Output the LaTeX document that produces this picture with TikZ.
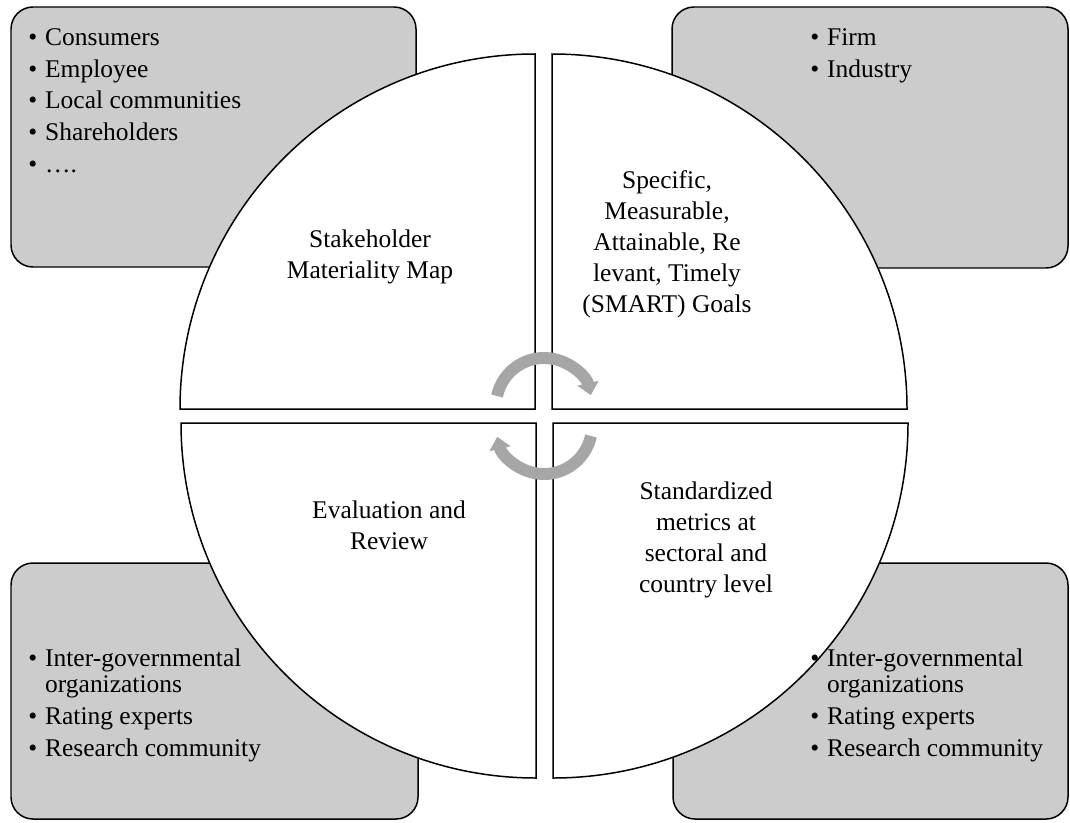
\documentclass[tikz,border=0pt]{standalone}
\usepackage{fontspec}
\setmainfont{Liberation Serif}
\usetikzlibrary{arrows.meta}

\tikzset{
  groupbox/.style={draw, line width=0.85pt, rounded corners=0.44cm, fill=black!20},
  quarter/.style={draw, line width=0.85pt, fill=white},
  cyclearrow/.style={draw=black!35, line width=6.8pt, -{Triangle[width=12pt,length=7pt]}},
  listtext/.style={anchor=north west, inner sep=0pt, font=\fontsize{14.5}{18}\selectfont},
  quartertext/.style={align=center, inner sep=0pt, font=\fontsize{14.5}{17.6}\selectfont},
}
\newcommand{\itemcols}{@{}l@{\hspace{4.5pt}}l@{}}

\begin{document}
\begin{tikzpicture}[x=1cm,y=1cm]
    \useasboundingbox (0,0) rectangle (21.4,16.44);
    % corner groups
    \draw[groupbox] (0.22,11.10) rectangle (8.32,16.30);
    \draw[groupbox] (13.44,11.08) rectangle (21.36,16.30);
    \draw[groupbox] (0.22,0.06) rectangle (8.36,5.18);
    \draw[groupbox] (13.46,0.06) rectangle (21.36,5.18);
    % four quarters of the cycle
    \coordinate (hub) at (10.88,8.12);
    \draw[quarter] (10.70,8.26) -- ++(-7.10,0) arc[start angle=180, end angle=90, radius=7.10] -- cycle;
    \draw[quarter] (11.04,8.26) -- ++(0,7.10) arc[start angle=90, end angle=0, radius=7.10] -- cycle;
    \draw[quarter] (10.72,7.98) -- ++(0,-7.10) arc[start angle=270, end angle=180, radius=7.10] -- cycle;
    \draw[quarter] (11.06,7.98) -- ++(7.10,0) arc[start angle=0, end angle=-90, radius=7.10] -- cycle;
    % circular arrows in the middle
    \draw[cyclearrow] (10.88,8.32) ++(168:0.96) arc[start angle=168, end angle=13, radius=0.96];
    \draw[cyclearrow] (10.88,7.92) ++(-12:0.96) arc[start angle=-12, end angle=-167, radius=0.96];
    % quarter labels
    \node[quartertext] (materiality) at (7.40,11.30) {Stakeholder\\Materiality Map};
    \node[quartertext] (smart) at (13.34,11.56) {Specific,\\Measurable,\\Attainable, Re\\levant, Timely\\(SMART) Goals};
    \node[quartertext] (review) at (7.78,5.94) {Evaluation and\\Review};
    \node[quartertext] (metrics) at (14.12,5.64) {Standardized\\metrics at\\sectoral and\\country level};
    % group lists
    \node[listtext] (stakeholders) at (0.56,15.98) {\begin{tabular}{\itemcols}
        \textbullet & Consumers\\
        \textbullet & Employee\\
        \textbullet & Local communities\\
        \textbullet & Shareholders\\
        \textbullet & ….
    \end{tabular}};
    \node[listtext] (levels) at (16.20,15.98) {\begin{tabular}{\itemcols}
        \textbullet & Firm\\
        \textbullet & Industry
    \end{tabular}};
    \node[listtext] (reviewers) at (0.56,3.56) {\begin{tabular}{\itemcols}
        \textbullet & Inter-governmental\\[-3pt]
        & organizations\\
        \textbullet & Rating experts\\
        \textbullet & Research community
    \end{tabular}};
    \node[listtext] (raters) at (16.20,3.56) {\begin{tabular}{\itemcols}
        \textbullet & Inter-governmental\\[-3pt]
        & organizations\\
        \textbullet & Rating experts\\
        \textbullet & Research community
    \end{tabular}};
\end{tikzpicture}
\end{document}
